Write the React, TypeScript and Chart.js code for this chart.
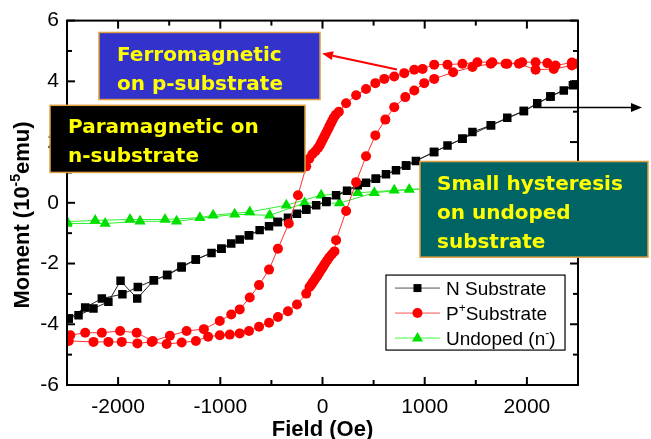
import { useEffect, useRef } from "react";
import { Chart, registerables } from "chart.js";

Chart.register(...registerables);

// ---------- axes ----------
const xTickValues = [-2000, -1000, 0, 1000, 2000];
const xMinorValues = [-1500, -500, 500, 1500];
const yTickValues = [-6, -4, -2, 0, 2, 4, 6];
const yMinorValues = [-5, -3, -1, 1, 3, 5];

// ---------- N substrate (black squares) ----------
const nDownField = [2450, 2230, 1970, 1650, 1370, 1090, 820, 520, 240, 40, -160, -440, -720, -990, -1240, -1380, -1520, -1650, -1813, -1976, -2095, -2241, -2387, -2483];
const nDownMoment = [3.87, 3.5, 3.02, 2.55, 2.11, 1.67, 1.23, 0.79, 0.4, 0.05, -0.22, -0.63, -1.07, -1.51, -1.87, -2.1, -2.38, -2.55, -3.15, -2.57, -3.26, -3.48, -3.7, -3.81];
const nUpField = [-2483, -2322, -2159, -1958, -1807, -1650, -1520, -1378, -1239, -1086, -988, -893, -810, -719, -615, -523, -436, -338, -250, -159, -62, 36, 133, 345, 426, 524, 621, 719, 816, 914, 1093, 1223, 1369, 1467, 1646, 1808, 1971, 2101, 2231, 2361, 2483];
const nUpMoment = [-3.81, -3.45, -3.15, -3.01, -2.77, -2.55, -2.38, -2.13, -1.87, -1.65, -1.51, -1.34, -1.21, -1.07, -0.9, -0.77, -0.63, -0.49, -0.36, -0.22, -0.08, 0.03, 0.25, 0.58, 0.66, 0.79, 0.94, 1.07, 1.23, 1.38, 1.67, 1.89, 2.11, 2.33, 2.55, 2.8, 3.02, 3.28, 3.5, 3.7, 3.9];

// ---------- P+ substrate (red circles) ----------
const pDownField = [2480, 2440, 2280, 2200, 2085, 1954, 1808, 1662, 1515, 1369, 1223, 1093, 979, 898, 800, 702, 605, 517, 426, 329, 231, 160, 130, 110, 95, 80, 65, 50, 35, 20, 5, -10, -25, -45, -70, -100, -130, -159, -240, -330, -436, -523, -621, -712, -810, -893, -1005, -1161, -1330, -1493, -1661, -1818, -1980, -2159, -2322, -2468];
const pDownMoment = [4.58, 4.62, 4.52, 4.6, 4.63, 4.63, 4.58, 4.63, 4.63, 4.58, 4.55, 4.55, 4.41, 4.38, 4.27, 4.16, 4.08, 3.94, 3.75, 3.54, 3.28, 3.0, 2.9, 2.8, 2.7, 2.6, 2.5, 2.4, 2.3, 2.2, 2.1, 2.0, 1.9, 1.8, 1.7, 1.6, 1.45, 1.2, 0.25, -0.68, -1.51, -2.2, -2.71, -3.12, -3.51, -3.68, -3.89, -4.16, -4.22, -4.38, -4.55, -4.28, -4.22, -4.28, -4.28, -4.36];
const pUpField = [-2483, -2241, -2095, -1964, -1811, -1671, -1525, -1378, -1239, -1119, -1005, -907, -810, -719, -621, -523, -436, -338, -250, -159, -127, -110, -95, -80, -65, -50, -35, -20, -5, 10, 25, 45, 65, 90, 117, 133, 231, 329, 426, 517, 615, 702, 810, 898, 995, 1093, 1278, 1467, 1646, 1792, 1922, 2085, 2263, 2440];
const pUpMoment = [-4.55, -4.58, -4.58, -4.58, -4.63, -4.58, -4.65, -4.6, -4.55, -4.41, -4.36, -4.34, -4.3, -4.22, -4.08, -3.95, -3.76, -3.57, -3.35, -2.99, -2.77, -2.7, -2.62, -2.55, -2.47, -2.4, -2.32, -2.24, -2.16, -2.08, -2.0, -1.9, -1.8, -1.7, -1.6, -1.23, -0.27, 0.68, 1.53, 2.22, 2.74, 3.15, 3.48, 3.7, 3.94, 4.08, 4.3, 4.47, 4.58, 4.58, 4.58, 4.38, 4.41, 4.52];

// ---------- Undoped (green triangles) ----------
const uDownField = [2500, 2200, 1900, 1600, 1300, 1000, 702, 345, -13, -354, -712, -1070, -1200, -1541, -1883, -2224, -2500];
const uDownMoment = [0.55, 0.53, 0.52, 0.5, 0.48, 0.46, 0.41, 0.33, 0.25, -0.08, -0.3, -0.41, -0.49, -0.55, -0.55, -0.58, -0.62];
const uUpField = [-2500, -2127, -1785, -1428, -859, -517, -176, 166, 507, 849, 1150, 1450, 1750, 2050, 2350, 2500];
const uUpMoment = [-0.68, -0.68, -0.61, -0.61, -0.38, -0.41, -0.01, -0.01, 0.33, 0.44, 0.47, 0.49, 0.51, 0.52, 0.54, 0.55];

// ---------- text ----------
const legendLabels = [
  [{ t: "N Substrate" }],
  [{ t: "P" }, { t: "+", sup: true }, { t: "Substrate" }],
  [{ t: "Undoped (n" }, { t: "-", sup: true }, { t: ")" }],
];
const yTitle = [{ t: "Moment (10" }, { t: "-5", sup: true }, { t: "emu)" }];
const xTitle = "Field (Oe)";
const ferroLines = ["Ferromagnetic", "on p-substrate"];
const paraLines = ["Paramagnetic on", "n-substrate"];
const hystLines = ["Small hysteresis", "on undoped", "substrate"];

const pts = (xs: number[], ys: number[]) => xs.map((x, i) => ({ x, y: ys[i] }));

const SANS = "'Liberation Sans', Arial, Helvetica, sans-serif";
const ANN = "'DejaVu Sans', Verdana, sans-serif";

function drawRich(ctx: CanvasRenderingContext2D, parts: any[], x: number, y: number, size: number, bold: boolean, measureOnly = false) {
  let cx = x;
  for (const p of parts) {
    const fs = p.sup ? Math.round(size * 0.62) : size;
    ctx.font = `${bold ? "bold " : ""}${fs}px ${SANS}`;
    const w = ctx.measureText(p.t).width;
    if (!measureOnly) ctx.fillText(p.t, cx, p.sup ? y - size * 0.42 : y);
    cx += w;
  }
  return cx - x;
}

function marker(ctx: CanvasRenderingContext2D, kind: string, x: number, y: number, color: string) {
  ctx.fillStyle = color;
  ctx.beginPath();
  if (kind === "rect") {
    ctx.rect(x - 4, y - 4, 8, 8);
  } else if (kind === "circle") {
    ctx.arc(x, y, 5, 0, Math.PI * 2);
  } else {
    ctx.moveTo(x, y - 6);
    ctx.lineTo(x + 5.5, y + 3.5);
    ctx.lineTo(x - 5.5, y + 3.5);
    ctx.closePath();
  }
  ctx.fill();
}

function arrow(ctx: CanvasRenderingContext2D, x1: number, y1: number, x2: number, y2: number, color: string, lw: number) {
  const ang = Math.atan2(y2 - y1, x2 - x1);
  const hl = 11, hw = 4.5;
  const bx = x2 - Math.cos(ang) * hl, by = y2 - Math.sin(ang) * hl;
  ctx.strokeStyle = color;
  ctx.lineWidth = lw;
  ctx.beginPath();
  ctx.moveTo(x1, y1);
  ctx.lineTo(bx, by);
  ctx.stroke();
  ctx.fillStyle = color;
  ctx.beginPath();
  ctx.moveTo(x2, y2);
  ctx.lineTo(bx - Math.sin(ang) * hw, by + Math.cos(ang) * hw);
  ctx.lineTo(bx + Math.sin(ang) * hw, by - Math.cos(ang) * hw);
  ctx.closePath();
  ctx.fill();
}

const overlay = {
  id: "overlay",
  afterDraw(chart: any) {
    const { ctx, chartArea: a, scales } = chart;
    const X = (v: number) => scales.x.getPixelForValue(v);
    const Y = (v: number) => scales.y.getPixelForValue(v);
    ctx.save();

    // frame + inward ticks
    ctx.strokeStyle = "#000";
    ctx.lineWidth = 2;
    ctx.strokeRect(a.left, a.top, a.right - a.left, a.bottom - a.top);
    const seg = (x1: number, y1: number, x2: number, y2: number) => {
      ctx.beginPath();
      ctx.moveTo(x1, y1);
      ctx.lineTo(x2, y2);
      ctx.stroke();
    };
    const tx = (vals: number[], len: number) => vals.forEach((v) => {
      const p = X(v);
      seg(p, a.bottom, p, a.bottom - len);
      seg(p, a.top, p, a.top + len);
    });
    const ty = (vals: number[], len: number) => vals.forEach((v) => {
      const p = Y(v);
      seg(a.left, p, a.left + len, p);
      seg(a.right, p, a.right - len, p);
    });
    tx(xTickValues, 8); tx(xMinorValues, 5);
    ty(yTickValues, 8); ty(yMinorValues, 5);

    // legend
    const lx = X(621), rx = X(2373), ty0 = Y(-2.38), by0 = Y(-4.85);
    ctx.fillStyle = "#fff";
    ctx.fillRect(lx, ty0, rx - lx, by0 - ty0);
    ctx.strokeStyle = "#000";
    ctx.lineWidth = 1.2;
    ctx.strokeRect(lx, ty0, rx - lx, by0 - ty0);
    const lgStyles = [
      { line: "#555", kind: "rect", color: "#000" },
      { line: "#ff5050", kind: "circle", color: "#ff0000" },
      { line: "#40ff40", kind: "triangle", color: "#00e000" },
    ];
    lgStyles.forEach((s, i) => {
      const cy = ty0 + 13 + i * 25;
      ctx.strokeStyle = s.line;
      ctx.lineWidth = 1;
      seg(lx + 9, cy, lx + 54, cy);
      marker(ctx, s.kind, lx + 31.5, cy, s.color);
      ctx.fillStyle = "#000";
      ctx.textBaseline = "alphabetic";
      ctx.textAlign = "left";
      drawRich(ctx, legendLabels[i], lx + 60, cy + 7, 19, false);
    });

    // annotation boxes
    const box = (x1: number, y1: number, x2: number, y2: number, fill: string, lines: string[], dx: number, dy: number, lh: number) => {
      const L = X(x1), T = Y(y1), R = X(x2), B = Y(y2);
      ctx.fillStyle = fill;
      ctx.fillRect(L, T, R - L, B - T);
      ctx.strokeStyle = "#e0a040";
      ctx.lineWidth = 1.5;
      ctx.strokeRect(L, T, R - L, B - T);
      ctx.fillStyle = "#ffff00";
      ctx.font = `bold 20px ${ANN}`;
      ctx.textAlign = "left";
      ctx.textBaseline = "alphabetic";
      lines.forEach((s, i) => ctx.fillText(s, L + dx, T + dy + i * lh));
    };
    box(-2187, 5.61, -24, 3.4, "#3333cc", ferroLines, 18, 29, 29);
    box(-2666, 3.21, -171, 1.0, "#000000", paraLines, 18, 28, 29);
    box(954, 1.36, 3185, -1.79, "#006464", hystLines, 17, 28, 29);

    // arrows
    arrow(ctx, X(729), Y(4.39), X(-5), Y(4.92), "#ff0000", 2);
    arrow(ctx, X(2060), Y(3.14), X(3126), Y(3.14), "#000000", 1.5);

    // axis titles
    ctx.fillStyle = "#000";
    ctx.textBaseline = "alphabetic";
    ctx.textAlign = "left";
    ctx.font = `bold 22px ${SANS}`;
    const xw = ctx.measureText(xTitle).width;
    ctx.fillText(xTitle, (a.left + a.right) / 2 - xw / 2, 436);
    const yw = drawRich(ctx, yTitle, 0, 0, 22, true, true);
    ctx.save();
    ctx.translate(29, 215);
    ctx.rotate(-Math.PI / 2);
    drawRich(ctx, yTitle, -yw / 2, 0, 22, true);
    ctx.restore();

    ctx.restore();
  },
};

export default function App() {
  const ref = useRef<HTMLCanvasElement>(null);
  useEffect(() => {
    document.body.style.margin = "0";
    const tickFont = { family: SANS, size: 21 };
    const chart = new Chart(ref.current!, {
      type: "scatter",
      data: {
        datasets: [
          {
            label: "P+Substrate",
            data: [...pts(pDownField, pDownMoment), ...pts(pUpField, pUpMoment)],
            showLine: true,
            borderColor: "#ff3030",
            borderWidth: 1,
            backgroundColor: "#ff0000",
            pointBackgroundColor: "#ff0000",
            pointBorderWidth: 0,
            pointStyle: "circle",
            pointRadius: 5,
          },
          {
            label: "N Substrate",
            data: [...pts(nDownField, nDownMoment), ...pts(nUpField, nUpMoment)],
            showLine: true,
            borderColor: "#222",
            borderWidth: 1,
            backgroundColor: "#000",
            pointBackgroundColor: "#000",
            pointBorderWidth: 0,
            pointStyle: "rect",
            pointRadius: 6,
          },
          {
            label: "Undoped (n-)",
            data: [...pts(uDownField, uDownMoment), ...pts(uUpField, uUpMoment)],
            showLine: true,
            borderColor: "#30ee30",
            borderWidth: 1,
            backgroundColor: "#00e000",
            pointBackgroundColor: "#00e000",
            pointBorderWidth: 0,
            pointStyle: "triangle",
            pointRadius: 6.5,
          },
        ],
      },
      options: {
        animation: false,
        responsive: false,
        maintainAspectRatio: false,
        layout: { padding: { top: 20, right: 73, left: 0, bottom: 0 } },
        plugins: { legend: { display: false }, tooltip: { enabled: false } },
        scales: {
          x: {
            type: "linear",
            min: -2500,
            max: 2500,
            afterBuildTicks: (s: any) => { s.ticks = xTickValues.map((v) => ({ value: v })); },
            afterFit: (s: any) => { s.height = 54; },
            grid: { display: false, drawTicks: false },
            border: { display: false },
            ticks: { font: tickFont, color: "#000", padding: 10, maxRotation: 0, callback: (v: any) => String(v) },
          },
          y: {
            type: "linear",
            min: -6,
            max: 6,
            afterBuildTicks: (s: any) => { s.ticks = yTickValues.map((v) => ({ value: v })); },
            afterFit: (s: any) => { s.width = 67; },
            grid: { display: false, drawTicks: false },
            border: { display: false },
            ticks: { font: tickFont, color: "#000", padding: 8, callback: (v: any) => String(v) },
          },
        },
      },
      plugins: [overlay],
    } as any);
    return () => chart.destroy();
  }, []);
  return (
    <div style={{ width: 651, height: 439, background: "#fff" }}>
      <canvas ref={ref} width={651} height={439} style={{ display: "block" }} />
    </div>
  );
}
